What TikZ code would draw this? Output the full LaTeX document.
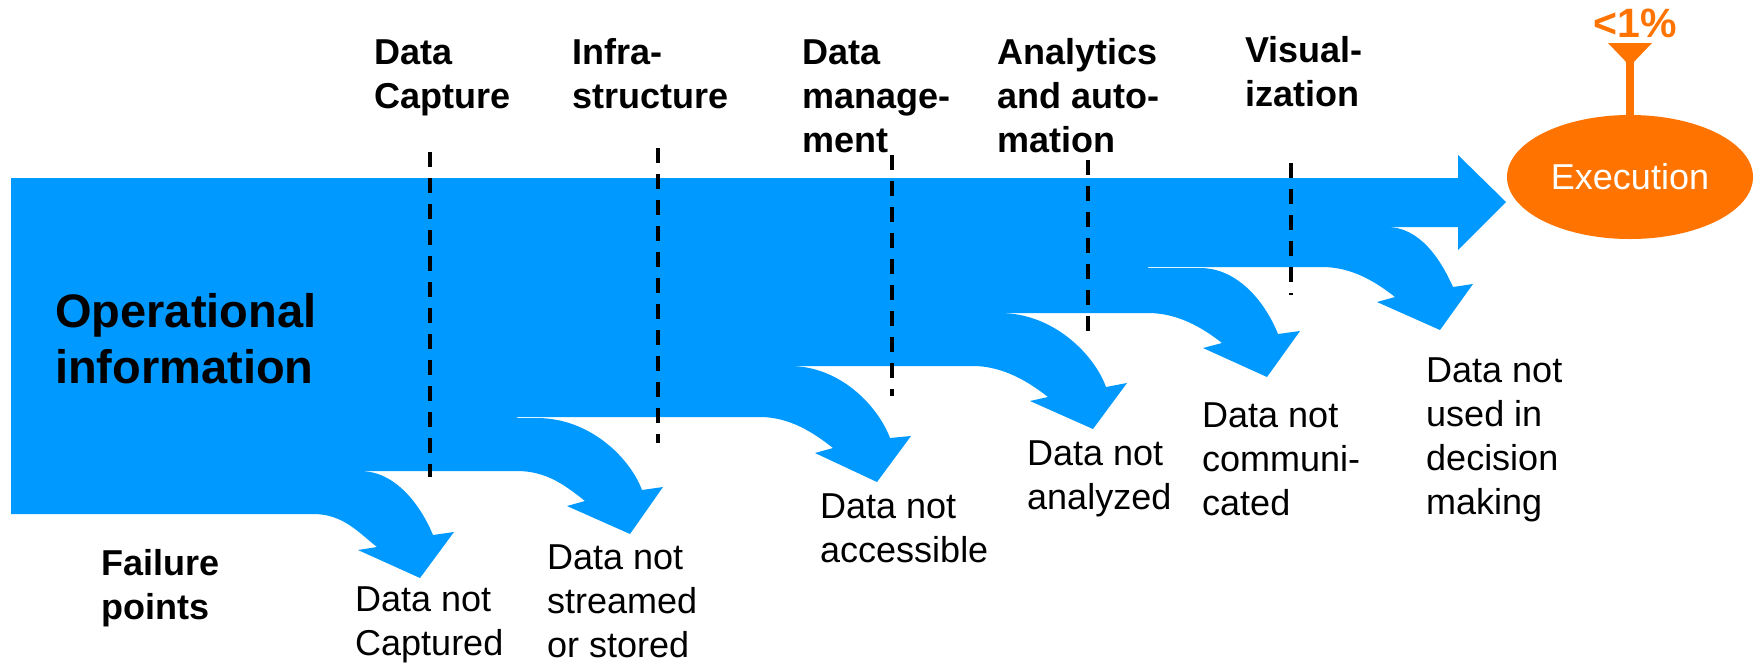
\documentclass[tikz,border=0pt]{standalone}
\usepackage{fontspec}
\setmainfont{Liberation Sans}
\usetikzlibrary{shapes.geometric}
\definecolor{flowblue}{RGB}{0,153,255}
\definecolor{execorange}{RGB}{255,115,0}
\newcommand\mystrut{\rule{0pt}{30pt}}
\begin{document}
\begin{tikzpicture}[x=1pt,y=-1pt,
  hdr/.style={anchor=north west,inner sep=0pt,align=left,font=\fontsize{36}{44}\selectfont\bfseries},
  failtxt/.style={anchor=north west,inner sep=0pt,align=left,font=\fontsize{36}{44}\selectfont},
  stage/.style={line width=4pt,dash pattern=on 15pt off 11pt},
  flow/.style={fill=flowblue}]
\useasboundingbox (0,0) rectangle (1764,665);

% main staircase flow with arrow head
\fill[flow] (11,178) -- (1458,178) -- (1458,155) -- (1506,202) -- (1458,250) -- (1458,227)
  -- (1322,227) -- (1322,267) -- (1148,267) -- (1148,313) -- (973,313) -- (973,366)
  -- (760,366) -- (760,417) -- (517,417) -- (517,471) -- (313,471) -- (313,514)
  -- (11,514) -- cycle;

% failure arrows
\fill[flow] (313,514) .. controls (343,514) and (358,532) .. (377,547) -- (358,550) -- (420,578)
  -- (454,532) -- (433,535) .. controls (421,506) and (396,471) .. (360,471) -- (313,471) -- cycle;
\fill[flow] (517,471) .. controls (547,471) and (566,486) .. (585,501) -- (567,506) -- (630,534)
  -- (663,487) -- (642,490) .. controls (630,458) and (590,418) .. (537,418) -- (517,418) -- cycle;
\fill[flow] (760,417) .. controls (790,417) and (814,433) .. (833,448) -- (815,453) -- (877,482)
  -- (911,436) -- (890,438) .. controls (878,406) and (840,366) .. (790,366) -- (760,366) -- cycle;
\fill[flow] (973,366) .. controls (1003,366) and (1029,382) .. (1048,397) -- (1030,401) -- (1093,429)
  -- (1127,383) -- (1106,387) .. controls (1094,354) and (1053,313) .. (1000,313) -- (973,313) -- cycle;
\fill[flow] (1148,313) .. controls (1178,313) and (1203,328) .. (1222,343) -- (1203,348) -- (1267,377)
  -- (1300,331) -- (1278,334) .. controls (1266,304) and (1239,268) .. (1200,268) -- (1148,268) -- cycle;
\fill[flow] (1322,267) .. controls (1352,267) and (1376,282) .. (1395,297) -- (1377,302) -- (1440,330)
  -- (1473,284) -- (1453,287) .. controls (1441,260) and (1420,227) .. (1387,227) -- (1322,227) -- cycle;

% stage separators
\draw[stage] (430,152) -- (430,477);
\draw[stage] (658,148) -- (658,443);
\draw[stage] (892,155) -- (892,396);
\draw[stage] (1088,160) -- (1088,340);
\draw[stage] (1291,163) -- (1291,295);

% stage headers
\node[hdr] (cap)   at (374,34)  {\mystrut Data\\Capture};
\node[hdr] (infra) at (572,34)  {\mystrut Infra-\\structure};
\node[hdr] (mgmt)  at (802,34)  {\mystrut Data\\manage-\\ment};
\node[hdr] (anal)  at (997,34)  {\mystrut Analytics\\and auto-\\mation};
\node[hdr] (vis)   at (1245,32) {\mystrut Visual-\\ization};

% left labels
\node[anchor=north west,inner sep=0pt,align=left,font=\fontsize{47}{56}\selectfont\bfseries]
  (ops) at (55,287) {\rule{0pt}{40pt}Operational\\information};
\node[hdr] (failpts) at (101,545) {\mystrut Failure\\points};

% failure texts
\node[failtxt] (f1) at (355,581)  {\mystrut Data not\\Captured};
\node[failtxt] (f2) at (547,539)  {\mystrut Data not\\streamed\\or stored};
\node[failtxt] (f3) at (820,488)  {\mystrut Data not\\accessible};
\node[failtxt] (f4) at (1027,435) {\mystrut Data not\\analyzed};
\node[failtxt] (f5) at (1202,397) {\mystrut Data not\\communi-\\cated};
\node[failtxt] (f6) at (1426,352) {\mystrut Data not\\used in\\decision\\making};

% execution
\node[ellipse,fill=execorange,minimum width=246pt,minimum height=124pt,inner sep=0pt,
  text=white,font=\fontsize{36}{44}\selectfont] (exec) at (1630,177) {Execution};
\coordinate (funtip) at (1630,60);
\draw[execorange,line width=8pt] (exec.north) -- (funtip);
\fill[execorange] (1608,43) -- (1652,43) -- (1630,66) -- cycle;
\node[anchor=base,inner sep=0pt,text=execorange,font=\fontsize{41}{48}\selectfont\bfseries]
  (pct) at (1635,37) {<1\%};
\end{tikzpicture}
\end{document}
